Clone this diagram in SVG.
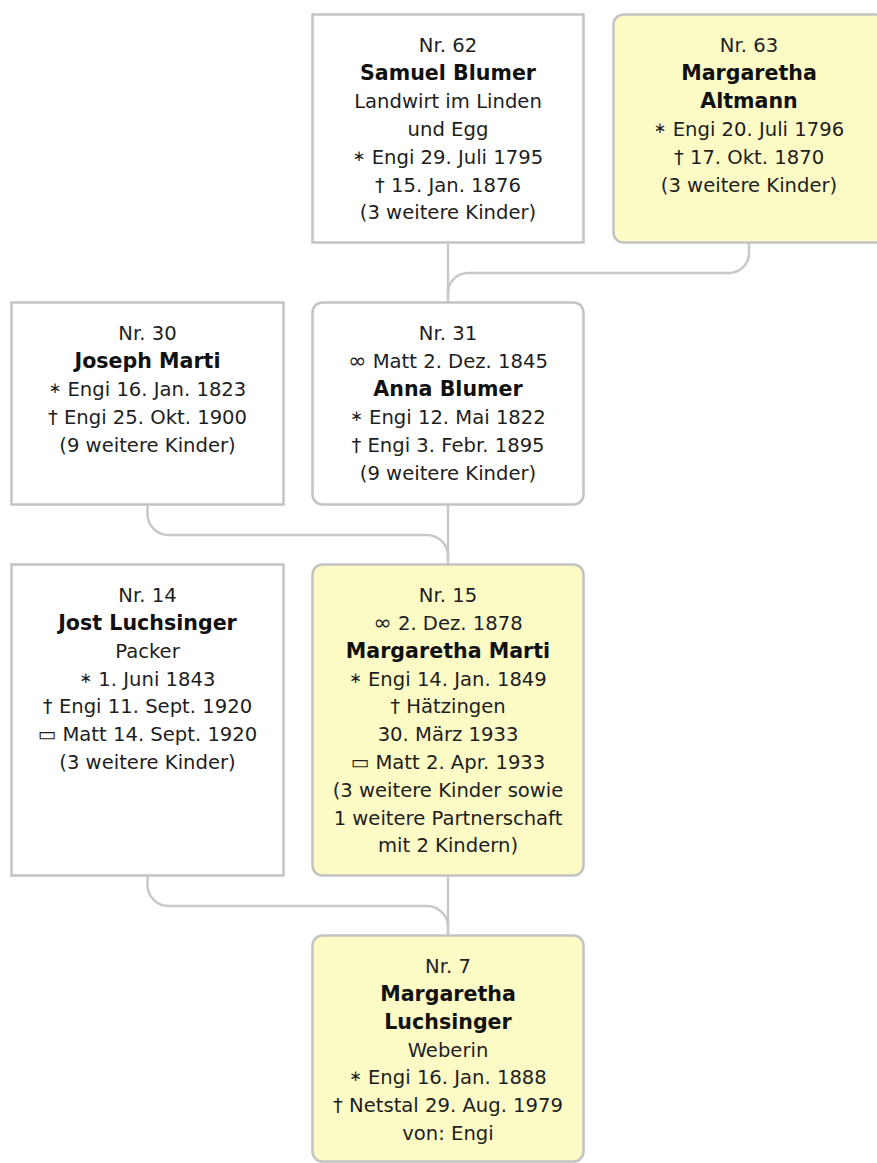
<svg xmlns="http://www.w3.org/2000/svg" width="877" height="1163" viewBox="0 0 877 1163">
  <style>
    .box { fill: #ffffff; stroke: #c3c3c3; stroke-width: 2.5; }
    .hl { fill: #fcfac5; }
    .link { fill: none; stroke: #c8c8c8; stroke-width: 2.5; }
    text { font-family: "DejaVu Sans", "Liberation Sans", sans-serif; font-size: 19.6px; fill: #1e1e1e; text-anchor: middle; }
    .name { font-weight: bold; font-size: 20.6px; fill: #111111; }
    .b { font-size: 15px; baseline-shift: 3px; }
    .m { font-size: 22px; }
  </style>

  <rect width="877" height="1163" fill="#ffffff"/>

  <!-- connectors between parents and children -->
  <g id="connectors">
    <path class="link" d="M448 243 V302"/>
    <path class="link" d="M749 243 V253 A20 20 0 0 1 729 273 H468 A20 20 0 0 0 448 293 V302"/>
    <path class="link" d="M448 505 V564"/>
    <path class="link" d="M147.5 505 V514 A21 21 0 0 0 168.5 535 H427 A21 21 0 0 1 448 556 V564"/>
    <path class="link" d="M448 876 V935"/>
    <path class="link" d="M147.5 876 V885 A21 21 0 0 0 168.5 906 H427 A21 21 0 0 1 448 927 V935"/>
  </g>

  <!-- generation 5 -->
  <g id="n62">
    <rect class="box" x="312.5" y="14.5" width="271" height="228"/>
    <text x="448" y="52">Nr. 62</text>
    <text class="name" x="448" y="80">Samuel Blumer</text>
    <text x="448" y="108">Landwirt im Linden</text>
    <text x="448" y="136">und Egg</text>
    <text x="448" y="164"><tspan class="b">∗</tspan> Engi 29. Juli 1795</text>
    <text x="448" y="191.5">† 15. Jan. 1876</text>
    <text x="448" y="219">(3 weitere Kinder)</text>
  </g>
  <g id="n63">
    <rect class="box hl" x="613.5" y="14.5" width="271" height="228" rx="10"/>
    <text x="749" y="52">Nr. 63</text>
    <text class="name" x="749" y="80">Margaretha</text>
    <text class="name" x="749" y="108">Altmann</text>
    <text x="749" y="136"><tspan class="b">∗</tspan> Engi 20. Juli 1796</text>
    <text x="749" y="164">† 17. Okt. 1870</text>
    <text x="749" y="191.5">(3 weitere Kinder)</text>
  </g>

  <!-- generation 4 -->
  <g id="n30">
    <rect class="box" x="11.5" y="302.5" width="272" height="202"/>
    <text x="147.5" y="340">Nr. 30</text>
    <text class="name" x="147.5" y="368">Joseph Marti</text>
    <text x="147.5" y="396"><tspan class="b">∗</tspan> Engi 16. Jan. 1823</text>
    <text x="147.5" y="424">† Engi 25. Okt. 1900</text>
    <text x="147.5" y="452">(9 weitere Kinder)</text>
  </g>
  <g id="n31">
    <rect class="box" x="312.5" y="302.5" width="271" height="202" rx="10"/>
    <text x="448" y="340">Nr. 31</text>
    <text x="448" y="368"><tspan class="m">∞</tspan> Matt 2. Dez. 1845</text>
    <text class="name" x="448" y="396">Anna Blumer</text>
    <text x="448" y="424"><tspan class="b">∗</tspan> Engi 12. Mai 1822</text>
    <text x="448" y="452">† Engi 3. Febr. 1895</text>
    <text x="448" y="480">(9 weitere Kinder)</text>
  </g>

  <!-- generation 3 -->
  <g id="n14">
    <rect class="box" x="11.5" y="564.5" width="272" height="311"/>
    <text x="147.5" y="602">Nr. 14</text>
    <text class="name" x="147.5" y="630">Jost Luchsinger</text>
    <text x="147.5" y="657.8">Packer</text>
    <text x="147.5" y="685.6"><tspan class="b">∗</tspan> 1. Juni 1843</text>
    <text x="147.5" y="713.4">† Engi 11. Sept. 1920</text>
    <text x="147.5" y="741.2">▭ Matt 14. Sept. 1920</text>
    <text x="147.5" y="769">(3 weitere Kinder)</text>
  </g>
  <g id="n15">
    <rect class="box hl" x="312.5" y="564.5" width="271" height="311" rx="10"/>
    <text x="448" y="602">Nr. 15</text>
    <text x="448" y="630"><tspan class="m">∞</tspan> 2. Dez. 1878</text>
    <text class="name" x="448" y="657.8">Margaretha Marti</text>
    <text x="448" y="685.6"><tspan class="b">∗</tspan> Engi 14. Jan. 1849</text>
    <text x="448" y="713.4">† Hätzingen</text>
    <text x="448" y="741.2">30. März 1933</text>
    <text x="448" y="769">▭ Matt 2. Apr. 1933</text>
    <text x="448" y="796.8">(3 weitere Kinder sowie</text>
    <text x="448" y="824.6">1 weitere Partnerschaft</text>
    <text x="448" y="852.4">mit 2 Kindern)</text>
  </g>

  <!-- generation 2 -->
  <g id="n7">
    <rect class="box hl" x="312.5" y="935.5" width="271" height="226" rx="10"/>
    <text x="448" y="973">Nr. 7</text>
    <text class="name" x="448" y="1001">Margaretha</text>
    <text class="name" x="448" y="1029">Luchsinger</text>
    <text x="448" y="1056.5">Weberin</text>
    <text x="448" y="1084.3"><tspan class="b">∗</tspan> Engi 16. Jan. 1888</text>
    <text x="448" y="1112">† Netstal 29. Aug. 1979</text>
    <text x="448" y="1140">von: Engi</text>
  </g>
</svg>
